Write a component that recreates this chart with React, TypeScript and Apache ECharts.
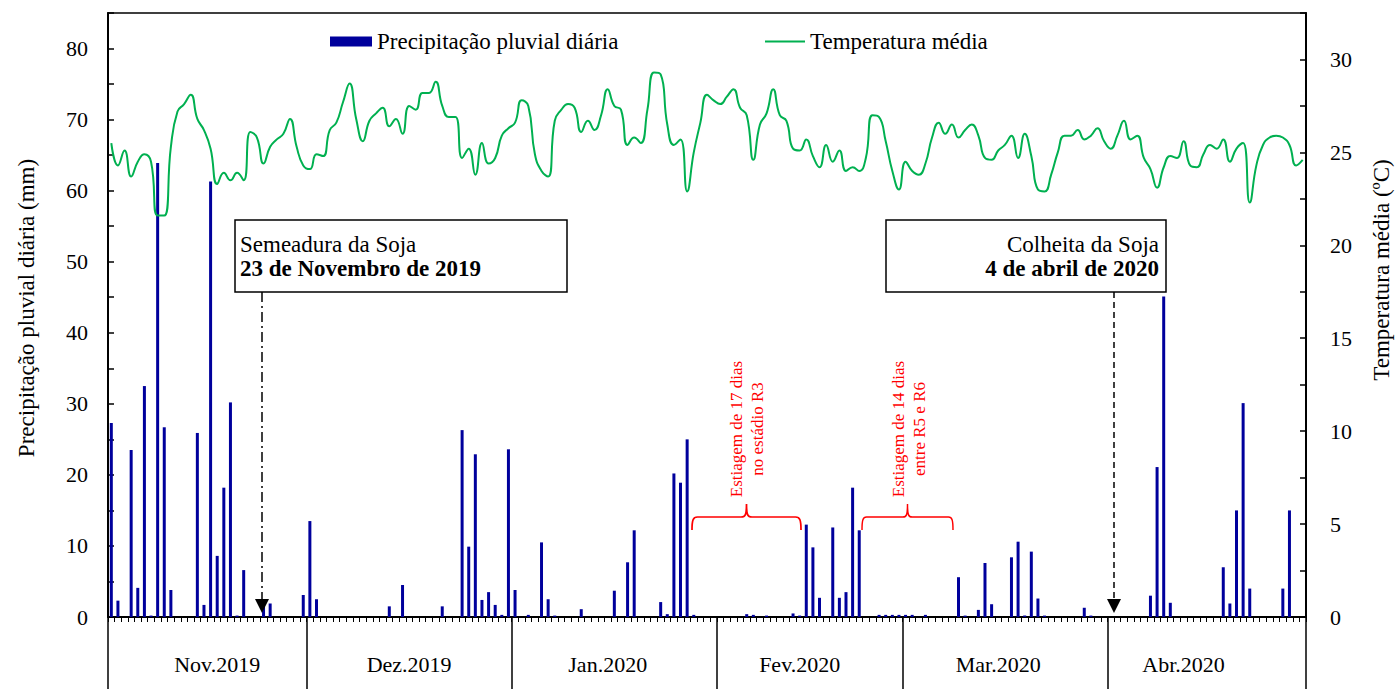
import React, { useEffect, useRef } from "react";
import * as echarts from "echarts";

// ---- Month structure (Feb shown with 28 days) ----
const monthLabels = ["Nov.2019", "Dez.2019", "Jan.2020", "Fev.2020", "Mar.2020", "Abr.2020"];
const monthYear = [2019, 2019, 2020, 2020, 2020, 2020];
const monthNum = [11, 12, 1, 2, 3, 4];
const monthDays = [30, 31, 31, 28, 31, 30];
const monthLabelDay = [17, 16, 15, 13, 15, 12];

// ---- Daily rainfall (mm) ----
const rainNov = [27.3, 2.3, 0, 23.5, 4.1, 32.5, 0.2, 63.9, 26.7, 3.8, 0, 0, 0, 25.9, 1.7, 61.3, 8.6, 18.2, 30.2, 0.2, 6.6, 0, 0, 1.5, 1.9, 0, 0, 0, 0, 3.1];
const rainDez = [13.5, 2.5, 0, 0, 0, 0, 0, 0, 0, 0, 0, 0, 1.5, 0, 4.5, 0, 0, 0, 0, 0, 1.5, 0, 0, 26.3, 9.9, 22.9, 2.4, 3.5, 1.7, 0.3, 23.6];
const rainJan = [3.8, 0, 0.3, 0, 10.5, 2.5, 0.2, 0, 0, 0, 1.1, 0, 0, 0, 0, 3.7, 0, 7.7, 12.2, 0, 0, 0, 2.1, 0.4, 20.2, 18.9, 25.0, 0.3, 0, 0, 0];
const rainFev = [0, 0, 0, 0, 0.4, 0.3, 0, 0.2, 0, 0, 0, 0.5, 0.2, 13.0, 9.8, 2.7, 0, 12.6, 2.7, 3.5, 18.2, 12.2, 0, 0, 0.3, 0.3, 0.3, 0.3];
const rainMar = [0.3, 0.3, 0, 0.3, 0, 0, 0, 0, 5.6, 0.2, 0, 1.0, 7.6, 1.8, 0, 0, 8.4, 10.6, 0.2, 9.2, 2.6, 0.2, 0, 0, 0, 0, 0, 1.3, 0.2, 0, 0];
const rainAbr = [0, 0, 0, 0, 0, 0, 3.0, 21.1, 45.1, 2.0, 0, 0, 0, 0, 0, 0, 0, 7.0, 1.9, 15.0, 30.1, 4.0, 0, 0, 0, 0, 4.0, 15.0, 0, 0];

// ---- Daily mean temperature (ºC) ----
const tempNov = [25.5, 24.3, 25.1, 23.7, 24.5, 24.9, 24.5, 21.6, 21.6, 25.3, 27.2, 27.6, 28.1, 26.8, 26.2, 25.2, 23.3, 23.9, 23.5, 23.9, 23.5, 26.1, 25.8, 24.4, 25.3, 25.7, 26.0, 26.8, 25.3, 24.3];
const tempDez = [24.1, 24.9, 24.8, 26.2, 26.6, 27.7, 28.7, 26.8, 25.6, 26.7, 27.1, 27.4, 26.4, 26.8, 26.0, 27.5, 27.3, 28.2, 28.2, 28.8, 27.5, 26.9, 26.9, 24.7, 25.2, 23.8, 25.5, 24.4, 24.7, 25.9, 26.3];
const tempJan = [26.6, 27.8, 27.5, 24.9, 24.0, 23.7, 26.7, 27.3, 27.6, 27.4, 26.1, 26.7, 26.2, 27.0, 28.4, 27.5, 27.3, 25.4, 25.8, 25.5, 27.3, 29.3, 29.2, 26.5, 25.4, 25.7, 22.9, 25.0, 26.6, 28.1, 27.8];
const tempFev = [27.6, 28.0, 28.4, 27.4, 27.0, 24.6, 26.5, 27.1, 28.4, 27.0, 26.7, 25.2, 25.1, 25.7, 24.8, 24.2, 25.4, 24.5, 25.1, 24.0, 24.2, 24.0, 24.7, 27.0, 26.9, 25.6, 24.0, 23.0];
const tempMar = [24.5, 24.0, 23.8, 24.4, 25.8, 26.6, 26.0, 26.5, 25.8, 26.2, 26.5, 25.9, 24.7, 24.6, 25.1, 25.4, 25.9, 24.7, 26.0, 24.8, 23.0, 22.9, 23.8, 25.0, 25.9, 25.9, 26.2, 25.7, 25.9, 26.3, 25.6];
const tempAbr = [25.2, 25.9, 26.7, 25.7, 25.9, 24.7, 24.1, 23.1, 24.2, 24.8, 24.7, 25.6, 24.3, 24.2, 24.9, 25.4, 25.2, 25.7, 24.5, 25.2, 25.5, 22.3, 24.3, 25.4, 25.8, 25.9, 25.8, 25.4, 24.3, 24.6];

const rain = [...rainNov, ...rainDez, ...rainJan, ...rainFev, ...rainMar, ...rainAbr];
const temp = [...tempNov, ...tempDez, ...tempJan, ...tempFev, ...tempMar, ...tempAbr];

const pad = (n: number) => (n < 10 ? "0" + n : String(n));
const categories: string[] = [];
const monthStartIdx: number[] = [];
const labelMap: Record<string, string> = {};
monthDays.forEach((nd, m) => {
  monthStartIdx.push(categories.length);
  for (let d = 1; d <= nd; d++) {
    const key = `${monthYear[m]}-${pad(monthNum[m])}-${pad(d)}`;
    if (d === monthLabelDay[m]) labelMap[key] = monthLabels[m];
    categories.push(key);
  }
});

const FONT = "Liberation Serif, Times New Roman, serif";
const BAR_COLOR = "#00009c";
const LINE_COLOR = "#00b050";
const RED = "#ff0000";

echarts.graphic.registerShape(
  "brace",
  echarts.graphic.extendPath(
    "M0,26 C0,16 1,13 5,13 L45,13 C49,13 50,11 50,0 C50,11 51,13 55,13 L95,13 C99,13 100,16 100,26",
    {}
  )
);

export default function App() {
  const ref = useRef<HTMLDivElement>(null);
  useEffect(() => {
    document.body.style.margin = "0";
    if (!ref.current) return;
    const chart = echarts.init(ref.current, undefined, { renderer: "svg" });
    const isMult = (v: number, k: number) => Math.abs(v / k - Math.round(v / k)) < 1e-6;
    const legendText = { fontSize: 23, fontFamily: FONT, color: "#000" };
    const redText = { fontSize: 17, fontFamily: FONT, fill: RED, align: "center", verticalAlign: "middle" };
    const option: any = {
      animation: false,
      textStyle: { fontFamily: FONT, color: "#000" },
      grid: {
        left: 108, top: 13, width: 1198, height: 604,
        outerBoundsMode: "none", containLabel: false,
        show: true, borderColor: "#000", borderWidth: 1.5, backgroundColor: "transparent",
      },
      legend: [
        { left: 330, top: 30, padding: 0, icon: "rect", itemWidth: 42, itemHeight: 10, selectedMode: false, data: ["Precipitação pluvial diária"], textStyle: legendText },
        { left: 765, top: 30, padding: 0, icon: "rect", itemWidth: 40, itemHeight: 2, selectedMode: false, data: ["Temperatura média"], textStyle: legendText },
      ],
      xAxis: [
        {
          type: "category", data: categories, boundaryGap: true, position: "bottom",
          axisLine: { show: true, lineStyle: { color: "#000", width: 2 } },
          axisTick: { show: true, interval: 0, length: 5, lineStyle: { color: "#000", width: 1 } },
          axisLabel: { show: false }, splitLine: { show: false },
        },
        {
          type: "category", data: categories, boundaryGap: true, position: "bottom",
          axisLine: { show: false },
          axisTick: { show: true, length: 72, interval: (i: number) => monthStartIdx.indexOf(i) >= 0, lineStyle: { color: "#000", width: 1.5 } },
          axisLabel: {
            show: true, interval: (i: number, v: string) => labelMap[v] !== undefined,
            formatter: (v: string) => labelMap[v] || "", margin: 36, fontSize: 22, color: "#000", fontFamily: FONT,
          },
          splitLine: { show: false },
        },
      ],
      yAxis: [
        {
          type: "value", min: 0, max: 85, interval: 5, position: "left",
          name: "Precipitação pluvial diária (mm)", nameLocation: "middle", nameGap: 70, nameRotate: 90,
          nameTextStyle: { fontSize: 23, fontFamily: FONT, color: "#000", padding: [0, 0, 0, 14] },
          axisLine: { show: true, lineStyle: { color: "#000", width: 2 } },
          axisTick: { show: true, inside: true, length: 6, lineStyle: { color: "#000", width: 1.5 } },
          axisLabel: { formatter: (v: number) => (isMult(v, 10) ? String(v) : ""), margin: 20, fontSize: 22, color: "#000", fontFamily: FONT },
          splitLine: { show: false },
        },
        {
          type: "value", min: 0, max: 32.5, interval: 2.5, position: "right",
          name: "Temperatura média (ºC)", nameLocation: "middle", nameGap: 64, nameRotate: 90,
          nameTextStyle: { fontSize: 23, fontFamily: FONT, color: "#000", padding: [0, 0, 0, 90] },
          axisLine: { show: true, lineStyle: { color: "#000", width: 2 } },
          axisTick: { show: true, inside: true, length: 6, lineStyle: { color: "#000", width: 1.5 } },
          axisLabel: { formatter: (v: number) => (isMult(v, 5) ? String(v) : ""), margin: 24, fontSize: 22, color: "#000", fontFamily: FONT },
          splitLine: { show: false },
        },
      ],
      series: [
        { name: "Precipitação pluvial diária", type: "bar", data: rain, xAxisIndex: 0, yAxisIndex: 0, barWidth: 3, color: BAR_COLOR, itemStyle: { color: BAR_COLOR } },
        { name: "Temperatura média", type: "line", data: temp, xAxisIndex: 0, yAxisIndex: 1, smooth: 0.5, symbol: "none", color: LINE_COLOR, lineStyle: { color: LINE_COLOR, width: 2 }, z: 3 },
      ],
      graphic: [
        // Semeadura box + arrow
        { type: "rect", z: 100, shape: { x: 235, y: 220, width: 332, height: 72 }, style: { fill: "#fff", stroke: "#000", lineWidth: 1.5 } },
        { type: "text", z: 101, x: 240, y: 244, style: { text: "Semeadura da Soja", fontSize: 23, fontFamily: FONT, fill: "#000", align: "left", verticalAlign: "middle" } },
        { type: "text", z: 101, x: 240, y: 268, style: { text: "23 de Novembro de 2019", fontSize: 23, fontWeight: "bold", fontFamily: FONT, fill: "#000", align: "left", verticalAlign: "middle" } },
        { type: "line", z: 100, shape: { x1: 262, y1: 292, x2: 262, y2: 600 }, style: { stroke: "#000", lineWidth: 1.5, lineDash: [10, 4, 2, 4] } },
        { type: "polygon", z: 100, shape: { points: [[255, 599], [269, 599], [262, 613]] }, style: { fill: "#000" } },
        // Colheita box + arrow
        { type: "rect", z: 100, shape: { x: 886, y: 220, width: 280, height: 72 }, style: { fill: "#fff", stroke: "#000", lineWidth: 1.5 } },
        { type: "text", z: 101, x: 1159, y: 244, style: { text: "Colheita da Soja", fontSize: 23, fontFamily: FONT, fill: "#000", align: "right", verticalAlign: "middle" } },
        { type: "text", z: 101, x: 1159, y: 268, style: { text: "4 de abril de 2020", fontSize: 23, fontWeight: "bold", fontFamily: FONT, fill: "#000", align: "right", verticalAlign: "middle" } },
        { type: "line", z: 100, shape: { x1: 1114, y1: 292, x2: 1114, y2: 600 }, style: { stroke: "#000", lineWidth: 1.5, lineDash: [6, 4] } },
        { type: "polygon", z: 100, shape: { points: [[1107, 599], [1121, 599], [1114, 613]] }, style: { fill: "#000" } },
        // Braces
        { type: "brace", z: 100, x: 692, y: 504, scaleX: 1.09, scaleY: 1, style: { stroke: RED, fill: "none", lineWidth: 1.6, strokeNoScale: true } },
        { type: "brace", z: 100, x: 862, y: 504, scaleX: 0.91, scaleY: 1, style: { stroke: RED, fill: "none", lineWidth: 1.6, strokeNoScale: true } },
        // Red rotated texts
        { type: "text", z: 101, x: 736, y: 429, rotation: Math.PI / 2, style: { ...redText, text: "Estiagem de 17 dias" } },
        { type: "text", z: 101, x: 757, y: 429, rotation: Math.PI / 2, style: { ...redText, text: "no estádio R3" } },
        { type: "text", z: 101, x: 898, y: 429, rotation: Math.PI / 2, style: { ...redText, text: "Estiagem de 14 dias" } },
        { type: "text", z: 101, x: 919, y: 429, rotation: Math.PI / 2, style: { ...redText, text: "entre R5 e R6" } },
      ],
    };
    chart.setOption(option);
    return () => chart.dispose();
  }, []);
  return <div ref={ref} style={{ position: "absolute", left: 0, top: 0, width: 1400, height: 689, background: "#fff" }} />;
}
